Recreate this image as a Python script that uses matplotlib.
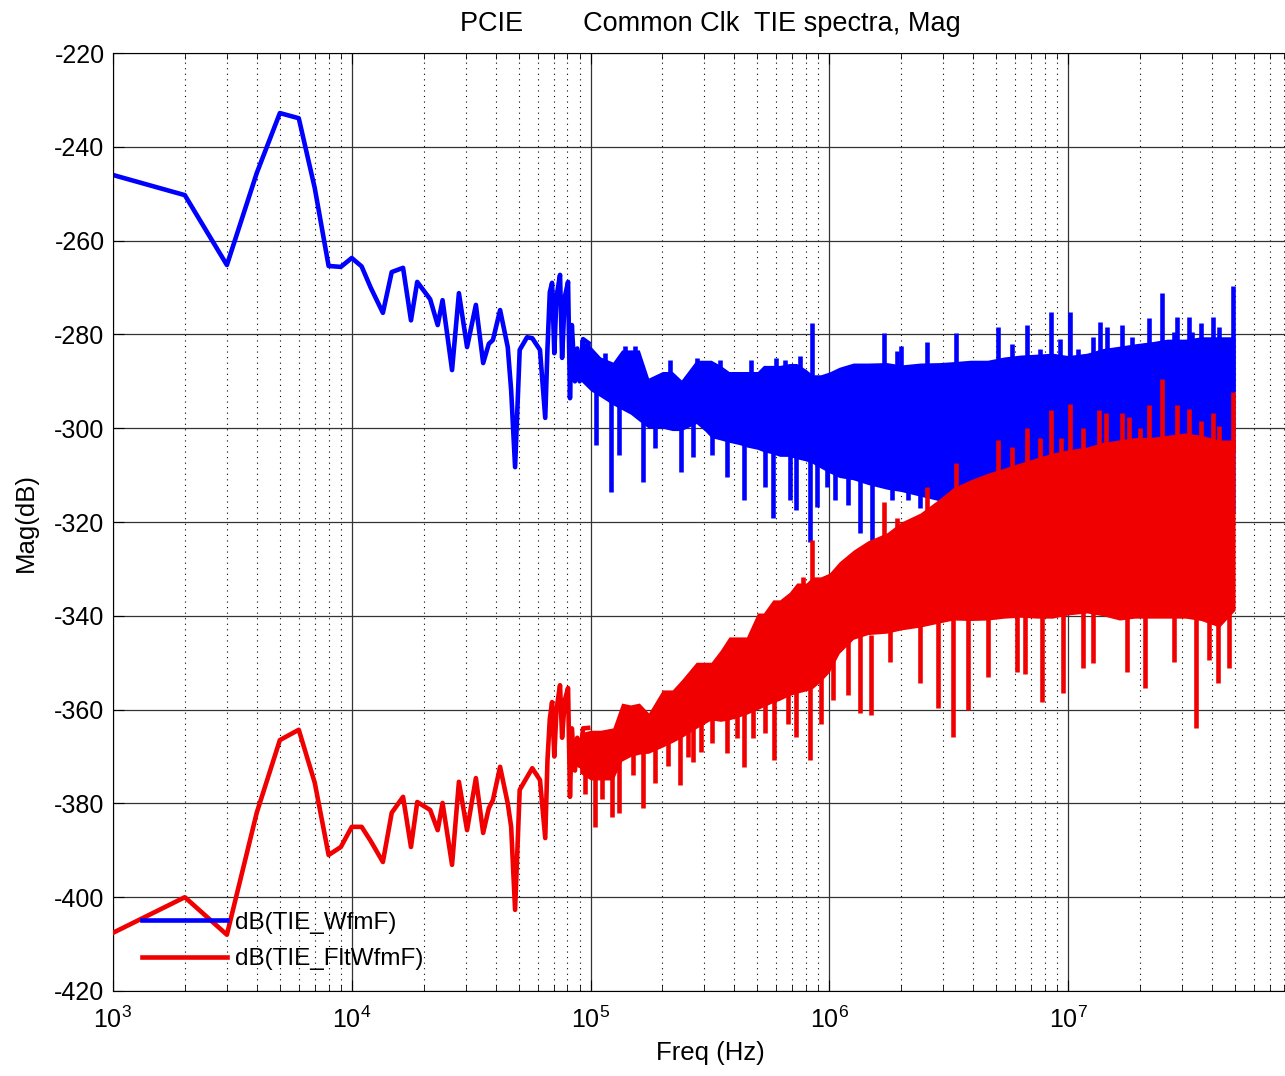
import matplotlib
matplotlib.use('Agg')
import matplotlib.pyplot as plt
from matplotlib.ticker import FixedLocator, LogLocator, NullFormatter, MultipleLocator

plt.rcParams['font.family'] = ['Liberation Sans', 'DejaVu Sans']
plt.rcParams['mathtext.default'] = 'regular'
plt.rcParams['axes.unicode_minus'] = False

# low-frequency bins, where the trace is still readable point by point
freq_sparse = [1000, 2000, 3000, 4000, 5000, 6000, 7000, 8000, 9000, 10000,
               11000, 12000, 13500, 14700, 16400, 17700, 18800, 21300, 22900, 24000,
               26300, 28100, 30400, 33100, 35500, 37500, 39000, 41800, 45000, 46500,
               48300, 50500, 54200, 57000, 61400, 64600, 66000, 67500, 69000, 70500,
               72000, 74500, 76000, 78000, 80500, 82000, 83500, 86000, 88000, 90000,
               93000, 97700]
wfm_sparse = [-246.0, -250.3, -265.2, -245.6, -232.8, -233.9, -248.8, -265.4, -265.6, -263.7,
              -265.5, -270.0, -275.4, -266.7, -265.8, -277.0, -268.8, -272.5, -278.0, -272.7,
              -287.6, -271.2, -282.7, -273.7, -286.1, -282.0, -281.2, -274.8, -282.7, -291.9,
              -308.3, -283.3, -280.6, -280.8, -283.3, -297.8, -283.0, -271.0, -269.0, -284.0,
              -272.0, -267.3, -285.0, -272.0, -268.8, -293.6, -278.0, -290.0, -283.0, -290.0,
              -281.0, -281.8]
flt_sparse = [-407.6, -400.0, -408.0, -382.0, -366.5, -364.3, -375.6, -391.0, -389.3, -385.0,
              -385.0, -388.0, -392.5, -382.0, -378.6, -389.3, -379.7, -381.4, -385.7, -379.9,
              -393.1, -375.4, -385.7, -374.6, -386.3, -381.0, -379.3, -372.2, -380.0, -385.0,
              -402.7, -377.1, -374.4, -372.5, -375.0, -387.4, -370.8, -362.0, -358.4, -370.0,
              -360.0, -354.8, -366.0, -358.0, -355.4, -378.6, -364.0, -373.0, -366.0, -372.0,
              -364.0, -363.9]

# dense part: top / bottom of the solid noise band
freq_band = [9.0e4, 1.0e5, 1.1e5, 1.24e5, 1.35e5, 1.47e5, 1.6e5, 1.75e5, 2.0e5, 2.2e5,
             2.4e5, 2.77e5, 3.0e5, 3.2e5, 3.5e5, 3.8e5, 4.2e5, 4.5e5, 5.0e5, 5.3e5,
             5.8e5, 6.2e5, 6.8e5, 7.3e5, 8.0e5, 8.5e5, 9.2e5, 1.0e6, 1.1e6, 1.26e6,
             1.45e6, 1.74e6, 2.0e6, 2.4e6, 2.9e6, 3.3e6, 3.9e6, 4.6e6, 5.4e6, 6.3e6,
             7.4e6, 8.6e6, 1.0e7, 1.2e7, 1.4e7, 1.64e7, 1.9e7, 2.27e7, 2.6e7, 3.1e7,
             3.6e7, 4.3e7, 5.0e7]
wfm_hi = [-281.2, -282.5, -284.8, -285.9, -283.3, -283.3, -283.3, -289.3, -287.9, -287.9,
          -289.7, -285.5, -285.5, -285.5, -286.6, -287.9, -287.9, -287.9, -287.9, -286.6,
          -286.6, -286.6, -286.2, -286.2, -287.5, -288.6, -288.6, -288.0, -287.0, -286.1,
          -286.1, -286.0, -286.5, -286.1, -286.0, -285.8, -285.5, -285.5, -284.8, -284.4,
          -284.2, -284.0, -284.5, -284.0, -283.0, -282.5, -282.0, -281.5, -281.0, -281.0,
          -280.5, -280.5, -280.5]
wfm_lo = [-289.7, -292.0, -293.3, -295.0, -296.0, -297.0, -298.5, -300.0, -300.0, -300.5,
          -300.5, -299.0, -300.5, -302.0, -302.5, -303.0, -303.5, -304.0, -304.5, -305.0,
          -305.5, -306.0, -306.0, -306.5, -307.0, -307.5, -308.5, -309.5, -310.5, -311.0,
          -312.0, -313.0, -313.5, -314.5, -315.5, -316.0, -317.0, -317.5, -318.0, -318.0,
          -318.0, -318.0, -318.0, -318.0, -318.0, -318.0, -318.0, -318.0, -318.0, -318.0,
          -318.0, -318.0, -318.0]
flt_hi = [-365.0, -364.4, -364.4, -363.9, -358.6, -359.0, -358.6, -360.7, -355.8, -355.8,
          -353.7, -349.9, -349.9, -349.9, -347.3, -344.5, -344.5, -344.5, -339.4, -339.4,
          -336.6, -336.6, -335.0, -333.0, -333.0, -331.7, -331.7, -330.9, -328.5, -326.0,
          -324.0, -322.3, -320.0, -318.1, -315.0, -312.7, -311.0, -309.6, -308.5, -307.4,
          -306.3, -305.3, -304.6, -304.0, -303.0, -302.5, -302.0, -301.9, -301.5, -301.0,
          -301.5, -302.5, -302.5]
flt_lo = [-373.5, -375.0, -375.0, -375.0, -371.0, -370.0, -369.5, -369.3, -368.0, -367.0,
          -366.0, -364.0, -363.0, -362.2, -362.5, -362.2, -361.5, -361.0, -360.0, -359.4,
          -358.5, -358.0, -357.0, -356.5, -356.0, -355.5, -354.0, -352.0, -348.0, -345.0,
          -344.0, -343.7, -343.0, -342.4, -341.5, -340.9, -341.0, -340.9, -340.5, -340.3,
          -340.5, -340.5, -339.8, -339.4, -340.0, -340.9, -340.5, -340.5, -340.5, -340.5,
          -341.0, -342.4, -338.8]

# single bins sticking out of the band: frequency, upper end, lower end
wfm_spike_f = [8.47e5, 1.69e6, 2.56e6, 3.39e6, 5.09e6, 6.73e6, 8.49e6, 1.02e7, 1.36e7, 1.68e7,
               2.18e7, 2.48e7, 2.86e7, 3.21e7, 4.05e7, 4.91e7,
               9.8e4, 1.15e5, 1.4e5, 1.53e5, 2.15e5, 2.8e5, 3.5e5, 4.7e5, 6.0e5, 6.5e5,
               7.5e5, 1.92e6, 2.0e6, 5.8e6, 7.6e6, 9.2e6, 1.1e7, 1.27e7, 1.45e7, 1.85e7,
               2.78e7, 3.3e7, 3.6e7, 4.3e7,
               1.05e5, 1.22e5, 1.32e5, 1.66e5, 1.86e5, 2.39e5, 2.69e5, 3.23e5, 3.73e5, 4.4e5,
               5.38e5, 5.81e5, 6.85e5, 7.25e5, 8.3e5, 8.9e5, 9.8e5, 1.06e6, 1.2e6, 1.35e6,
               1.51e6, 1.83e6, 2.14e6, 2.4e6]
wfm_spike_top = [-277.6, -279.7, -281.6, -279.7, -278.4, -278.0, -275.2, -275.2, -277.4, -278.0,
                 -276.6, -271.2, -276.3, -276.3, -276.3, -269.7,
                 -281.6, -284.0, -282.5, -282.5, -285.5, -285.0, -285.5, -285.5, -285.0, -285.5,
                 -284.5, -283.5, -282.5, -282.0, -283.0, -281.0, -283.0, -280.5, -278.5, -280.5,
                 -279.5, -279.5, -277.5, -278.5,
                 -290.0, -292.0, -292.0, -295.0, -296.0, -296.0, -296.0, -298.0, -298.0, -300.0,
                 -300.0, -300.0, -302.0, -302.0, -302.0, -304.0, -304.0, -305.0, -305.0, -306.0,
                 -306.0, -308.0, -308.0, -310.0]
wfm_spike_bot = [-292.0, -292.0, -292.0, -292.0, -292.0, -292.0, -292.0, -292.0, -292.0, -292.0,
                 -292.0, -292.0, -292.0, -292.0, -292.0, -292.0,
                 -290.0, -290.0, -290.0, -290.0, -292.0, -292.0, -292.0, -292.0, -292.0, -292.0,
                 -292.0, -292.0, -292.0, -292.0, -292.0, -292.0, -292.0, -292.0, -292.0, -292.0,
                 -292.0, -292.0, -292.0, -292.0,
                 -303.6, -313.6, -305.7, -311.5, -304.2, -309.3, -306.1, -305.7, -310.4, -315.3,
                 -312.5, -319.1, -315.3, -317.4, -324.3, -316.8, -312.5, -315.3, -316.4, -322.3,
                 -324.3, -315.3, -315.3, -317.0]

flt_spike_f = [7.77e5, 8.47e5, 1.69e6, 1.92e6, 2.56e6, 3.39e6, 5.09e6, 6.73e6, 8.49e6, 9.36e6,
               1.02e7, 1.34e7, 1.44e7, 1.68e7, 2.18e7, 2.48e7, 2.86e7, 3.21e7, 4.05e7, 4.91e7,
               5.8e6, 7.6e6, 1.15e7, 1.8e7, 2.0e7, 3.6e7, 4.3e7,
               1.045e5, 1.23e5, 1.32e5, 1.66e5, 1.86e5, 2.37e5, 2.69e5, 3.23e5, 3.73e5, 4.4e5,
               5.38e5, 5.87e5, 7.26e5, 8.3e5, 1.04e6, 1.2e6, 1.35e6, 1.49e6, 1.79e6, 2.4e6,
               2.86e6, 3.3e6, 3.82e6, 4.6e6, 6.1e6, 6.6e6, 7.8e6, 9.5e6, 1.15e7, 1.27e7,
               1.77e7, 2.09e7, 2.77e7, 3.43e7, 3.89e7, 4.24e7, 4.71e7,
               9.5e4, 1.12e5, 1.5e5, 2.1e5, 2.55e5, 2.9e5, 4.1e5, 4.8e5, 6.7e5, 9.2e5]
flt_spike_top = [-331.7, -323.8, -315.7, -319.1, -312.5, -307.4, -302.5, -300.0, -296.1, -302.1,
                 -294.8, -296.1, -296.8, -296.8, -295.1, -289.5, -295.1, -295.9, -296.8, -292.3,
                 -304.0, -302.0, -300.0, -297.5, -300.0, -298.5, -299.5,
                 -372.0, -373.0, -370.0, -368.0, -367.0, -364.0, -362.0, -360.0, -360.0, -358.0,
                 -357.0, -356.0, -354.0, -353.0, -348.0, -344.0, -344.0, -344.0, -342.0, -341.0,
                 -340.0, -340.0, -340.0, -340.0, -339.0, -339.0, -339.0, -339.0, -339.0, -339.0,
                 -339.0, -339.0, -339.0, -339.0, -339.0, -339.0, -339.0,
                 -372.0, -372.0, -368.0, -366.0, -364.0, -362.0, -360.0, -358.0, -356.0, -352.0]
flt_spike_bot = [-336.0, -336.0, -325.0, -325.0, -320.0, -315.0, -312.0, -310.0, -308.0, -308.0,
                 -307.0, -306.0, -306.0, -305.0, -304.0, -304.0, -304.0, -304.0, -304.0, -305.0,
                 -310.0, -310.0, -308.0, -306.0, -306.0, -306.0, -306.0,
                 -385.0, -383.0, -382.0, -381.0, -375.6, -376.1, -371.2, -367.1, -369.3, -372.2,
                 -365.0, -370.7, -365.8, -370.7, -358.0, -356.9, -360.7, -361.2, -349.9, -354.3,
                 -359.7, -365.8, -360.0, -353.0, -352.0, -352.3, -358.4, -356.5, -351.1, -350.0,
                 -352.0, -355.4, -349.9, -363.9, -349.4, -354.3, -351.1,
                 -378.0, -379.0, -374.0, -372.0, -370.0, -369.0, -366.0, -366.0, -363.0, -363.0]

BLUE = '#0000ff'
RED = '#f00000'
LW = 3.3

fig = plt.figure(figsize=(12.85, 10.76), dpi=100)
# axes run to 1e8, the right edge of the picture cuts them off
ax = fig.add_axes([0.0879, 0.0790, 0.9292, 0.8717])
ax.set_xscale('log')

# TIE spectrum
wfm_line, = ax.plot(freq_sparse, wfm_sparse, color=BLUE, lw=LW, zorder=2, label='dB(TIE_WfmF)')
ax.fill_between(freq_band, wfm_lo, wfm_hi, color=BLUE, lw=0, zorder=2)
ax.vlines(wfm_spike_f, wfm_spike_bot, wfm_spike_top, color=BLUE, lw=LW, zorder=2)

# filtered TIE spectrum, drawn on top
flt_line, = ax.plot(freq_sparse, flt_sparse, color=RED, lw=LW, zorder=3, label='dB(TIE_FltWfmF)')
ax.fill_between(freq_band, flt_lo, flt_hi, color=RED, lw=0, zorder=3)
ax.vlines(flt_spike_f, flt_spike_bot, flt_spike_top, color=RED, lw=LW, zorder=3)

ax.set_xlim(1e3, 1e8)
ax.set_ylim(-420, -220)
ax.yaxis.set_major_locator(MultipleLocator(20))
ax.xaxis.set_major_locator(FixedLocator([1e3, 1e4, 1e5, 1e6, 1e7]))
ax.xaxis.set_minor_locator(LogLocator(base=10, subs=range(2, 10), numticks=12))
ax.xaxis.set_minor_formatter(NullFormatter())

ax.set_axisbelow(True)
ax.grid(True, which='major', color='0.2', ls='-', lw=0.9)
ax.grid(True, which='minor', axis='x', color='k', ls=(0, (1, 4)), lw=0.8)
ax.tick_params(which='both', direction='in', top=True, right=True, labelsize=18)
ax.tick_params(axis='x', pad=11)
ax.tick_params(axis='y', pad=6)
ax.tick_params(which='major', length=8)
ax.tick_params(which='minor', length=4)

ax.set_title('PCIE        Common Clk  TIE spectra, Mag', fontsize=19.5, pad=16)
ax.set_xlabel('Freq (Hz)', fontsize=18.5, labelpad=6)
ax.set_ylabel('Mag(dB)', fontsize=18.5, labelpad=12)

ax.legend(handles=[wfm_line, flt_line], loc='lower left', bbox_to_anchor=(0.024, 0.022),
          frameon=False, fontsize=17.5, borderpad=0, borderaxespad=0,
          handlelength=3.5, handletextpad=0.35, labelspacing=0.6)

fig.savefig('out.png', dpi=100)
